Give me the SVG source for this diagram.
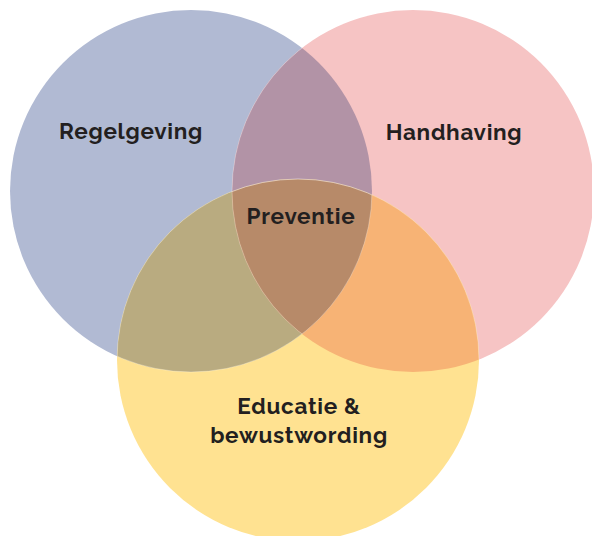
<svg xmlns="http://www.w3.org/2000/svg" width="592" height="536" viewBox="0 0 592 536">
<style>
.lbl{font-family:Raleway,Lato,"Open Sans","Liberation Sans",sans-serif;font-weight:700;font-size:22.5px;letter-spacing:0.7px;fill:#231F20;text-anchor:middle}
.edge{fill:none;stroke:#ffffff;stroke-opacity:0.35;stroke-width:0.8}
</style>
<defs>
<clipPath id="cB"><circle cx="191" cy="191" r="181"/></clipPath>
<clipPath id="cP"><circle cx="413" cy="191" r="181"/></clipPath>
<clipPath id="cY"><circle cx="298" cy="360" r="181"/></clipPath>
</defs>
<rect width="592" height="536" fill="#ffffff"/>
<g id="regelgeving">
<circle cx="191" cy="191" r="181" fill="#B1BAD3"/>
</g>
<g id="handhaving">
<circle cx="413" cy="191" r="181" fill="#F6C4C4"/>
</g>
<g id="educatie">
<circle cx="298" cy="360" r="181" fill="#FFE291"/>
</g>
<g id="overlaps">
<circle cx="413" cy="191" r="181" fill="#B293A6" clip-path="url(#cB)"/>
<circle cx="298" cy="360" r="181" fill="#B9AB80" clip-path="url(#cB)"/>
<circle cx="298" cy="360" r="181" fill="#F7B375" clip-path="url(#cP)"/>
<g clip-path="url(#cB)"><circle cx="298" cy="360" r="181" fill="#B78A69" clip-path="url(#cP)"/></g>
<circle cx="413" cy="191" r="181" class="edge" clip-path="url(#cB)"/>
<circle cx="298" cy="360" r="181" class="edge" clip-path="url(#cB)"/>
<circle cx="298" cy="360" r="181" class="edge" clip-path="url(#cP)"/>
<circle cx="191" cy="191" r="181" class="edge" clip-path="url(#cY)"/>
</g>
<g id="labels">
<text class="lbl" x="131" y="139">Regelgeving</text>
<text class="lbl" x="454" y="140">Handhaving</text>
<text class="lbl" x="301" y="224">Preventie</text>
<text class="lbl" x="299" y="414">Educatie &amp;</text>
<text class="lbl" x="299" y="443">bewustwording</text>
</g>
</svg>
